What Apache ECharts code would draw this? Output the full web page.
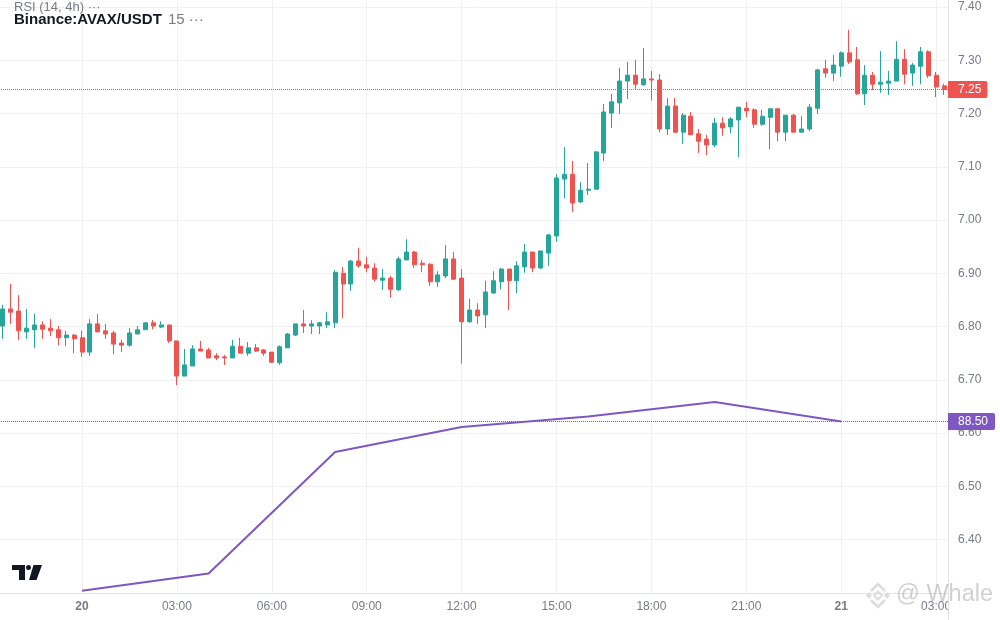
<!DOCTYPE html>
<html><head><meta charset="utf-8">
<style>html,body{margin:0;padding:0;background:#fff}#c{width:1000px;height:620px}</style>
<script src="https://cdn.jsdelivr.net/npm/echarts@6/dist/echarts.min.js"></script>
</head><body><div id="c"></div>
<script>
const opens=[6.801,6.833,6.829,6.790,6.794,6.803,6.797,6.794,6.779,6.784,6.779,6.752,6.805,6.792,6.788,6.769,6.765,6.786,6.794,6.807,6.799,6.803,6.773,6.707,6.726,6.758,6.756,6.745,6.743,6.741,6.763,6.750,6.760,6.756,6.752,6.732,6.760,6.784,6.805,6.801,6.801,6.803,6.807,6.900,6.880,6.923,6.916,6.910,6.887,6.891,6.869,6.925,6.940,6.919,6.917,6.884,6.895,6.927,6.891,6.809,6.831,6.822,6.863,6.884,6.908,6.886,6.912,6.940,6.910,6.938,6.970,7.077,7.086,7.034,7.056,7.058,7.126,7.201,7.220,7.261,7.272,7.254,7.265,7.263,7.171,7.214,7.165,7.195,7.162,7.152,7.141,7.182,7.175,7.188,7.210,7.207,7.180,7.193,7.209,7.165,7.197,7.165,7.171,7.210,7.284,7.276,7.289,7.314,7.301,7.237,7.272,7.255,7.257,7.261,7.302,7.276,7.289,7.316,7.272,7.252];
const closes=[6.833,6.827,6.792,6.797,6.803,6.795,6.792,6.779,6.784,6.777,6.752,6.805,6.790,6.786,6.767,6.765,6.788,6.794,6.807,6.801,6.803,6.773,6.707,6.728,6.758,6.754,6.741,6.741,6.741,6.763,6.750,6.760,6.754,6.750,6.733,6.762,6.786,6.805,6.801,6.805,6.807,6.809,6.902,6.880,6.923,6.914,6.910,6.889,6.891,6.870,6.927,6.940,6.916,6.916,6.884,6.897,6.927,6.889,6.809,6.831,6.820,6.865,6.886,6.908,6.886,6.914,6.940,6.910,6.942,6.972,7.079,7.086,7.032,7.056,7.058,7.128,7.203,7.222,7.261,7.272,7.255,7.265,7.263,7.171,7.214,7.165,7.197,7.160,7.148,7.141,7.182,7.173,7.190,7.212,7.205,7.180,7.195,7.209,7.165,7.197,7.165,7.171,7.212,7.282,7.276,7.291,7.314,7.297,7.237,7.272,7.255,7.259,7.261,7.302,7.274,7.291,7.316,7.271,7.250,7.245];
const lows=[6.777,6.805,6.775,6.777,6.760,6.777,6.782,6.765,6.763,6.750,6.743,6.745,6.790,6.777,6.748,6.752,6.762,6.786,6.794,6.795,6.797,6.769,6.690,6.707,6.726,6.754,6.741,6.737,6.728,6.741,6.750,6.745,6.752,6.745,6.732,6.728,6.760,6.782,6.788,6.786,6.786,6.797,6.797,6.816,6.867,6.910,6.902,6.884,6.869,6.854,6.867,6.925,6.910,6.902,6.876,6.874,6.891,6.887,6.730,6.807,6.805,6.797,6.861,6.870,6.831,6.863,6.901,6.902,6.908,6.914,6.959,7.041,7.015,7.032,7.047,7.058,7.111,7.173,7.199,7.227,7.246,7.252,7.224,7.165,7.160,7.163,7.143,7.160,7.126,7.122,7.137,7.158,7.163,7.118,7.193,7.173,7.177,7.133,7.148,7.148,7.165,7.165,7.167,7.199,7.267,7.261,7.269,7.293,7.235,7.216,7.244,7.239,7.235,7.261,7.255,7.252,7.255,7.267,7.231,7.235];
const highs=[6.841,6.880,6.859,6.833,6.824,6.810,6.814,6.801,6.792,6.786,6.792,6.814,6.824,6.805,6.792,6.775,6.797,6.801,6.807,6.812,6.810,6.803,6.773,6.758,6.765,6.773,6.760,6.750,6.747,6.775,6.779,6.771,6.767,6.758,6.752,6.765,6.788,6.805,6.831,6.812,6.809,6.827,6.906,6.912,6.925,6.948,6.931,6.919,6.908,6.895,6.931,6.964,6.942,6.925,6.919,6.904,6.953,6.940,6.908,6.852,6.844,6.886,6.904,6.910,6.908,6.923,6.955,6.940,6.942,6.974,7.086,7.137,7.111,7.071,7.107,7.130,7.218,7.237,7.286,7.297,7.301,7.323,7.280,7.274,7.229,7.229,7.201,7.203,7.171,7.160,7.192,7.193,7.193,7.212,7.222,7.210,7.207,7.209,7.209,7.197,7.199,7.195,7.218,7.284,7.301,7.310,7.317,7.357,7.325,7.291,7.278,7.317,7.280,7.336,7.321,7.295,7.325,7.319,7.278,7.256];
const rsiIndex=[10,26,42,58,74,90,106];
const rsiValues=[60.05,62.94,83.37,87.58,89.34,91.78,88.50];
const tickLabels={10:'20',22:'03:00',34:'06:00',46:'09:00',58:'12:00',70:'15:00',82:'18:00',94:'21:00',106:'21',118:'03:00'};
const lastPrice=7.245, lastPriceLabel='7.25', rsiLast=88.5, rsiLabel='88.50';
const priceMin=6.3, priceMax=7.5, priceStep=0.1;
const rsiMin=59.70, rsiMax=167.14;

const cats=opens.map((_,i)=>String(i));
const candles=opens.map((o,i)=>[o,closes[i],lows[i],highs[i]]);
const rsi=opens.map((_,i)=>{const k=rsiIndex.indexOf(i);return k<0?null:rsiValues[k];});
const isTick=i=>tickLabels[i]!==undefined;
const FONT='"Liberation Sans",Arial,sans-serif';
const grey='#787b86';
const mark='#dcdcdc';

const chart=echarts.init(document.getElementById('c'),null,{renderer:'canvas'});
chart.setOption({
 animation:false,
 backgroundColor:'#ffffff',
 grid:{left:-1,top:-46.2,width:949,height:639,containLabel:false,outerBoundsMode:'none'},
 xAxis:{type:'category',data:cats,boundaryGap:true,
  axisLine:{show:true,onZero:false,lineStyle:{color:'#e0e3eb',width:1}},
  axisTick:{show:false,alignWithLabel:true},
  splitLine:{show:true,alignWithLabel:true,interval:(i)=>isTick(i),lineStyle:{color:'#f0f0f0',width:1}},
  axisLabel:{interval:(i)=>isTick(i),hideOverlap:false,margin:8,fontFamily:FONT,fontSize:12,
   formatter:(v)=>{const t=tickLabels[+v];return (t==='20'||t==='21')?'{b|'+t+'}':t;},
   color:grey,rich:{b:{fontWeight:'bold',fontFamily:FONT,fontSize:12,color:grey}}}
 },
 yAxis:[
  {type:'value',position:'right',min:priceMin,max:priceMax,interval:priceStep,scale:true,
   axisLine:{show:true,lineStyle:{color:'#e0e3eb',width:1}},axisTick:{show:false},
   splitLine:{show:true,lineStyle:{color:'#f0f0f0',width:1}},
   axisLabel:{margin:10,fontFamily:FONT,fontSize:12,color:grey,showMinLabel:false,showMaxLabel:false,
    formatter:(v)=>v.toFixed(2)}},
  {type:'value',show:false,min:rsiMin,max:rsiMax,splitLine:{show:false}}
 ],
 series:[
  {type:'candlestick',data:candles,barWidth:4.5,yAxisIndex:0,
   itemStyle:{color:'#26a69a',color0:'#ef5350',borderColor:'#26a69a',borderColor0:'#ef5350',borderWidth:1},
   markLine:{silent:true,symbol:'none',animation:false,precision:3,
    lineStyle:{type:'dotted',color:'#ef5350',width:1},
    data:[{yAxis:lastPrice}],
    label:{show:true,position:'end',distance:0,formatter:lastPriceLabel,color:'#fff',fontFamily:FONT,fontSize:12,
     backgroundColor:'#ef5350',padding:[2,6,2,10],borderRadius:[0,2,2,0],lineHeight:13}}},
  {type:'line',data:rsi,yAxisIndex:1,connectNulls:true,showSymbol:false,symbol:'none',z:5,
   lineStyle:{color:'#7e57c2',width:2},
   markLine:{silent:true,symbol:'none',animation:false,precision:2,
    lineStyle:{type:'dotted',color:'#7e57c2',width:1},
    data:[{yAxis:rsiLast}],
    label:{show:true,position:'end',distance:0,formatter:rsiLabel,color:'#fff',fontFamily:FONT,fontSize:12,
     backgroundColor:'#7e57c2',padding:[2,7,2,10],borderRadius:[0,2,2,0],lineHeight:13}}}
 ],
 graphic:[
  {type:'rect',z:50,silent:true,shape:{x:948.5,y:593,width:52,height:27},style:{fill:'#fff'}},
  {type:'line',z:51,silent:true,shape:{x1:948.5,y1:593,x2:948.5,y2:620},style:{stroke:'#e0e3eb',lineWidth:1}},
  {type:'text',z:60,silent:true,x:14,y:1,style:{text:'RSI (14, 4h) ···',font:'13px '+FONT,fill:grey,textBaseline:'top'}},
  {type:'text',z:60,silent:true,x:14,y:12,style:{text:'Binance:AVAX/USDT',font:'bold 15px '+FONT,fill:'#131722',textBaseline:'top'}},
  {type:'text',z:60,silent:true,x:168,y:12,style:{text:'15 ···',font:'15px '+FONT,fill:grey,textBaseline:'top'}},
  {type:'group',z:60,silent:true,children:[
   {type:'polygon',z:60,shape:{points:[[12,565],[25,565],[25,580],[19,580],[19,570],[12,570]]},style:{fill:'#131722'}},
   {type:'circle',z:60,shape:{cx:28.5,cy:567.5,r:2.5},style:{fill:'#131722'}},
   {type:'polygon',z:60,shape:{points:[[33.5,565],[42,565],[36.5,580],[29,580]]},style:{fill:'#131722'}}
  ]},
  {type:'group',z:60,silent:true,children:[
   {type:'polyline',z:60,shape:{points:[[871,591],[878,584],[885,591]]},style:{stroke:mark,lineWidth:2.5,fill:null}},
   {type:'polyline',z:60,shape:{points:[[871,600],[878,607],[885,600]]},style:{stroke:mark,lineWidth:2.5,fill:null}},
   {type:'polygon',z:60,shape:{points:[[869,592],[872,595.5],[869,599],[866,595.5]]},style:{fill:mark}},
   {type:'polygon',z:60,shape:{points:[[887,592],[890,595.5],[887,599],[884,595.5]]},style:{fill:mark}},
   {type:'polygon',z:60,shape:{points:[[878,591.5],[882,595.5],[878,599.5],[874,595.5]]},style:{stroke:mark,lineWidth:2,fill:null}}
  ]},
  {type:'text',z:60,silent:true,x:896,y:583,style:{text:'@ Whale',font:'23.5px "Liberation Sans",Arial,sans-serif',fill:'rgba(150,150,150,0.45)',textBaseline:'top'}}
 ]
});
</script></body></html>
